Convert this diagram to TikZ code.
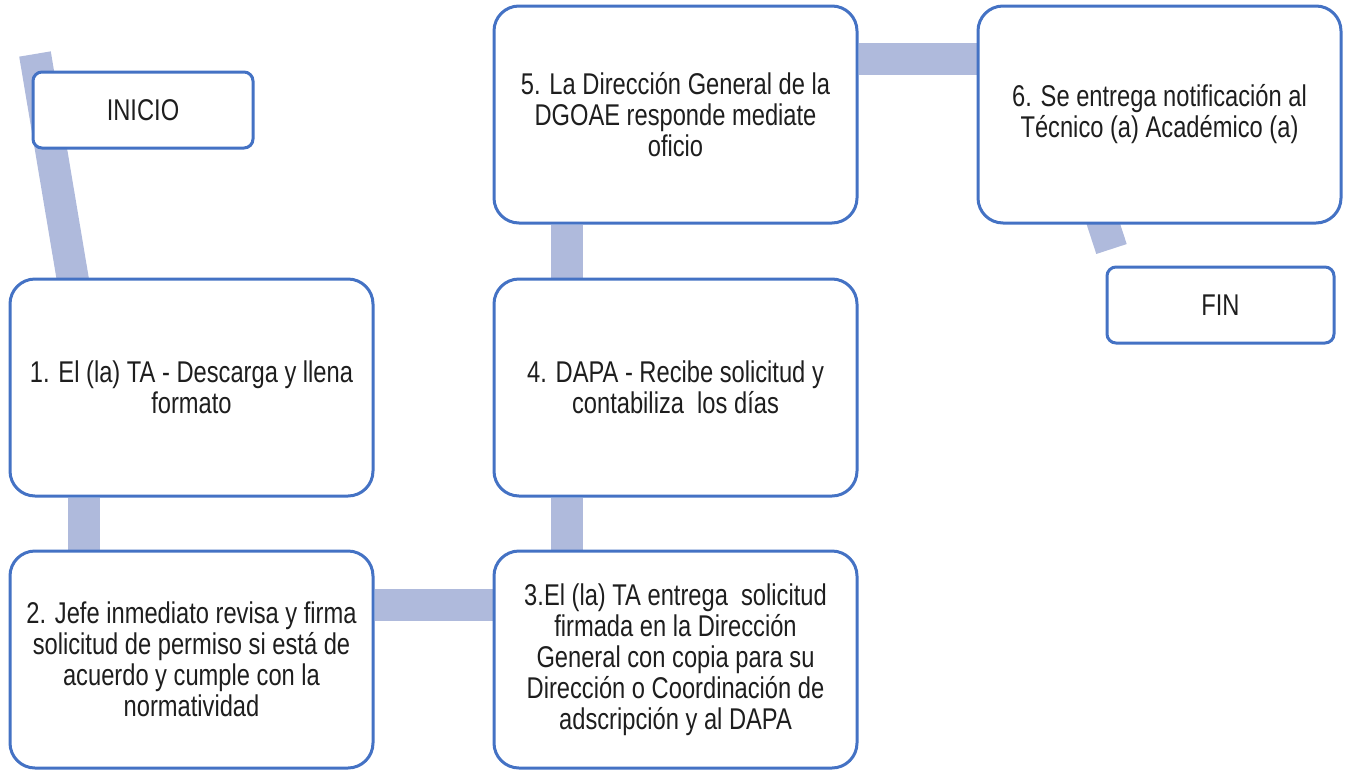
\documentclass[tikz,border=0pt]{standalone}
\usepackage{fontspec}
\setmainfont[FakeStretch=0.79]{Liberation Sans}
\usetikzlibrary{backgrounds}
\definecolor{boxblue}{HTML}{4472C4}
\definecolor{barblue}{HTML}{AFBADC}
\definecolor{txt}{HTML}{1E1E1E}
\begin{document}
\begin{tikzpicture}[x=1pt,y=-1pt,
  bigbox/.style={draw=boxblue, line width=3pt, fill=white, rounded corners=25pt,
    minimum width=363pt, minimum height=217pt, align=center, text=txt,
    font=\fontsize{30}{31}\selectfont, inner sep=0pt},
  smallbox/.style={draw=boxblue, line width=3pt, fill=white, rounded corners=9pt,
    minimum height=76pt, align=center, text=txt,
    font=\fontsize{30}{31}\selectfont, inner sep=0pt},
  bar/.style={draw=barblue, line width=32pt, line cap=butt}]
\useasboundingbox (0,0) rectangle (1349,769);
% boxes
\node[smallbox, minimum width=220pt] (inicio) at (143,110) {INICIO};
\node[bigbox] (b1) at (191.5,387.5) {1. El (la) TA - Descarga y llena\\formato};
\node[bigbox] (b2) at (191.5,659.5) {2. Jefe inmediato revisa y firma\\solicitud de permiso si está de\\acuerdo y cumple con la\\normatividad};
\node[bigbox] (b3) at (675.5,659.5) {3.El (la) TA entrega~ solicitud\\firmada en la Dirección\\General con copia para su\\Dirección o Coordinación de\\adscripción y al DAPA};
\node[bigbox] (b4) at (675.5,387.5) {4. DAPA - Recibe solicitud y\\contabiliza~ los días};
\node[bigbox] (b5) at (675.5,114.5) {5. La Dirección General de la\\DGOAE responde mediate\\oficio};
\node[bigbox] (b6) at (1159.5,114.5) {6. Se entrega notificación al\\Técnico (a) Académico (a)};
\node[smallbox, minimum width=227pt] (fin) at (1220.5,305) {FIN};
\coordinate (s0) at (35,54);
\coordinate (e6) at (1111.5,249);
% connectors behind the boxes
\begin{scope}[on background layer]
\draw[bar, shorten >=-8pt] (s0) -- ([xshift=-119pt]b1.north);
\draw[bar] ([xshift=-108pt]b1.south) -- ([xshift=-108pt]b2.north);
\draw[bar] ([yshift=54.5pt]b2.east) -- ([yshift=54.5pt]b3.west);
\draw[bar] ([xshift=-108.5pt]b3.north) -- ([xshift=-108.5pt]b4.south);
\draw[bar] ([xshift=-108.5pt]b4.north) -- ([xshift=-108.5pt]b5.south);
\draw[bar] ([yshift=55.5pt]b5.east) -- ([yshift=55.5pt]b6.west);
\draw[bar, shorten <=-8pt] ([xshift=-56pt]b6.south) -- (e6);
\end{scope}
\end{tikzpicture}
\end{document}
